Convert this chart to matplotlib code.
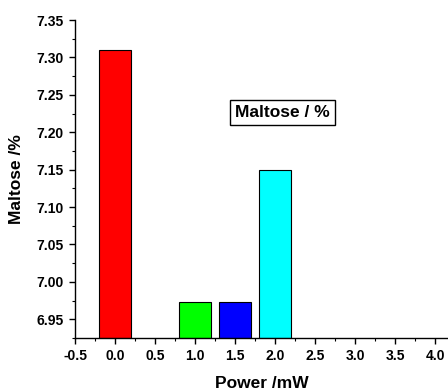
import matplotlib
matplotlib.use("Agg")
import matplotlib.pyplot as plt
from matplotlib.ticker import MultipleLocator

plt.rcParams['font.family'] = ['Liberation Sans', 'DejaVu Sans']
plt.rcParams['font.weight'] = 'bold'

power = [0.0, 1.0, 1.5, 2.0]
maltose = [7.31, 6.973, 6.973, 7.15]
colors = ['#ff0000', '#00ff00', '#0000ff', '#00ffff']
xticks = [-0.5, 0.0, 0.5, 1.0, 1.5, 2.0, 2.5, 3.0, 3.5, 4.0]
xtick_labels = ['-0.5', '0.0', '0.5', '1.0', '1.5', '2.0', '2.5', '3.0', '3.5', '4.0']
yticks = [6.95, 7.00, 7.05, 7.10, 7.15, 7.20, 7.25, 7.30, 7.35]
ytick_labels = ['6.95', '7.00', '7.05', '7.10', '7.15', '7.20', '7.25', '7.30', '7.35']

fig = plt.figure(figsize=(4.48, 3.91), dpi=100)
ax = fig.add_axes([75/448, 1 - 338/391, 1 - 75/448, (338 - 20)/391])

ybase = 6.925
heights = [v - ybase for v in maltose]
ax.bar(power, heights, width=0.4, bottom=ybase, color=colors,
       edgecolor='black', linewidth=0.8, zorder=2)

ax.set_xlim(-0.5, 4.16)
ax.set_ylim(ybase, 7.35)
ax.set_xticks(xticks)
ax.set_xticklabels(xtick_labels)
ax.set_yticks(yticks)
ax.set_yticklabels(ytick_labels)
ax.xaxis.set_minor_locator(MultipleLocator(0.25))
ax.yaxis.set_minor_locator(MultipleLocator(0.025))

for side in ('top', 'right'):
    ax.spines[side].set_visible(False)
for side in ('left', 'bottom'):
    ax.spines[side].set_linewidth(1.0)

ax.tick_params(axis='both', which='major', direction='out', length=4, width=1,
               labelsize=10, pad=4)
ax.tick_params(axis='both', which='minor', direction='out', length=2.5, width=0.8)
for lbl in ax.get_xticklabels() + ax.get_yticklabels():
    lbl.set_fontweight('bold')

ax.set_xlabel('Power /mW', fontsize=12.5, fontweight='bold', labelpad=9)
ax.set_ylabel('Maltose /%', fontsize=12.5, fontweight='bold', labelpad=9)

ax.text(2.09, 7.226, 'Maltose / %', fontsize=12.5, fontweight='bold',
        ha='center', va='center',
        bbox=dict(boxstyle='square,pad=0.3', facecolor='white',
                  edgecolor='black', linewidth=1.0))

fig.savefig('out.png', dpi=100)
